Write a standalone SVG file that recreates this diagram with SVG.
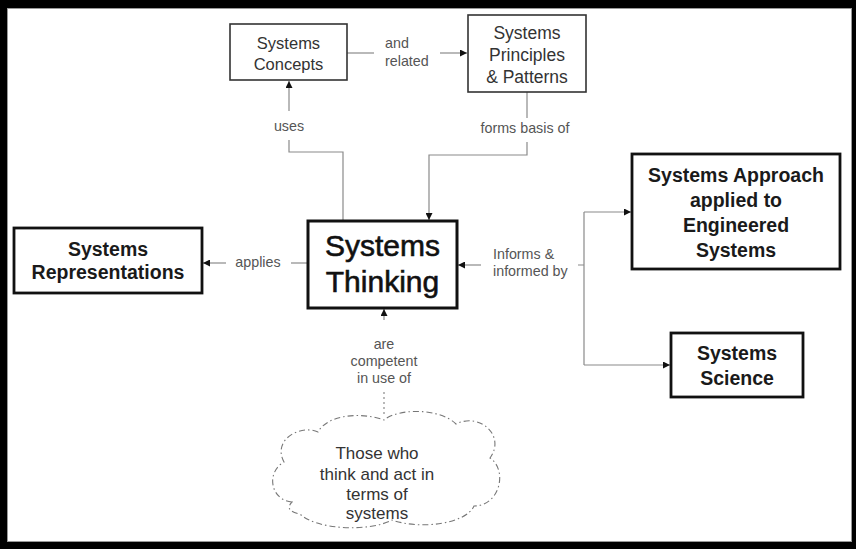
<svg xmlns="http://www.w3.org/2000/svg" width="856" height="549" viewBox="0 0 856 549">
<style>
.conn{fill:none;stroke:#8a8a8a;stroke-width:1.2}
.lbl{font-family:"Liberation Sans",Arial,sans-serif;font-size:14.3px;fill:#555}
.thin{fill:#fff;stroke:#333;stroke-width:1.6}
.thick{fill:#fff;stroke:#111;stroke-width:2.8}
.tn{font-family:"Liberation Sans",Arial,sans-serif;fill:#333;text-anchor:middle}
.tb{font-family:"Liberation Sans",Arial,sans-serif;font-weight:bold;font-size:19.5px;fill:#1a1a1a;text-anchor:middle}
</style>
<defs>
<marker id="ah" viewBox="0 0 10 10" refX="10" refY="5" markerWidth="7" markerHeight="7" markerUnits="userSpaceOnUse" orient="auto">
<path d="M0,0 L10,5 L0,10 z" fill="#111"/>
</marker>
</defs>
<rect x="0" y="0" width="856" height="549" fill="#000"/>
<rect x="7.5" y="8.5" width="844" height="533" fill="#fff" stroke="#999" stroke-width="1"/>

<g id="connectors">
<!-- and related -->
<path class="conn" d="M347,53 H374"/>
<path class="conn" d="M440,53 H467" marker-end="url(#ah)"/>
<text class="lbl" x="385" y="48">and</text>
<text class="lbl" x="385" y="66">related</text>
<!-- uses -->
<path class="conn" d="M289,111 V81" marker-end="url(#ah)"/>
<path class="conn" d="M343,221 V152 H289 V140"/>
<text class="lbl" x="289" y="131" text-anchor="middle">uses</text>
<!-- forms basis of -->
<path class="conn" d="M527,92 V118"/>
<path class="conn" d="M527,142 V155 H429 V220" marker-end="url(#ah)"/>
<text class="lbl" x="525" y="133" text-anchor="middle">forms basis of</text>
<!-- applies -->
<path class="conn" d="M226,263 H203" marker-end="url(#ah)"/>
<path class="conn" d="M308,263 H291"/>
<text class="lbl" x="258" y="267" text-anchor="middle">applies</text>
<!-- informs -->
<path class="conn" d="M481,265 H458" marker-end="url(#ah)"/>
<path class="conn" d="M578,265 H584 M584,212 V365"/>
<path class="conn" d="M584,212 H631" marker-end="url(#ah)"/>
<path class="conn" d="M584,365 H670" marker-end="url(#ah)"/>
<text class="lbl" x="493" y="259">Informs &amp;</text>
<text class="lbl" x="493" y="276">informed by</text>
<!-- are competent -->
<path class="conn" d="M384,320 V309" marker-end="url(#ah)"/>
<path class="conn" d="M384,392 V416" stroke-dasharray="2,3"/>
<text class="lbl" x="384" y="349" text-anchor="middle">are</text>
<text class="lbl" x="384" y="366" text-anchor="middle">competent</text>
<text class="lbl" x="384" y="383" text-anchor="middle">in use of</text>
</g>

<g id="systems-concepts">
<rect class="thin" x="230" y="24" width="117" height="56"/>
<text class="tn" x="288.5" y="49" font-size="16.5">Systems</text>
<text class="tn" x="288.5" y="70" font-size="16.5">Concepts</text>
</g>

<g id="systems-principles">
<rect class="thin" x="468" y="15" width="118" height="77"/>
<text class="tn" x="527" y="39" font-size="17.5">Systems</text>
<text class="tn" x="527" y="61" font-size="17.5">Principles</text>
<text class="tn" x="527" y="83" font-size="17.5">&amp; Patterns</text>
</g>

<g id="systems-thinking">
<rect x="308" y="221" width="149" height="87" fill="#fff" stroke="#111" stroke-width="3"/>
<text x="382.5" y="256" font-family="'Liberation Sans',Arial,sans-serif" font-size="30" fill="#111" stroke="#111" stroke-width="0.6" text-anchor="middle">Systems</text>
<text x="382.5" y="292" font-family="'Liberation Sans',Arial,sans-serif" font-size="30" fill="#111" stroke="#111" stroke-width="0.6" text-anchor="middle">Thinking</text>
</g>

<g id="systems-representations">
<rect class="thick" x="14" y="228" width="188" height="65"/>
<text class="tb" x="108" y="256">Systems</text>
<text class="tb" x="108" y="279">Representations</text>
</g>

<g id="systems-approach">
<rect class="thick" x="632" y="154" width="208" height="115"/>
<text class="tb" x="736" y="182">Systems Approach</text>
<text class="tb" x="736" y="207">applied to</text>
<text class="tb" x="736" y="232">Engineered</text>
<text class="tb" x="736" y="257">Systems</text>
</g>

<g id="systems-science">
<rect class="thick" x="671" y="333" width="132" height="64"/>
<text class="tb" x="737" y="360">Systems</text>
<text class="tb" x="737" y="385">Science</text>
</g>

<g id="practitioners-cloud">
<path d="M292,502 C270,500 266,472 284,462 C272,440 300,424 318,432 C328,414 362,412 384,420 C398,408 440,408 456,424 C480,412 506,436 490,458 C508,470 500,506 474,506 C466,524 420,530 392,520 C370,532 316,530 300,514 C290,512 286,508 292,502 Z" fill="#fff" stroke="#777" stroke-width="1.1" stroke-dasharray="6,3,1.5,3"/>
<text class="tn" x="377" y="459" font-size="17">Those who</text>
<text class="tn" x="377" y="480" font-size="17">think and act in</text>
<text class="tn" x="377" y="500" font-size="17">terms of</text>
<text class="tn" x="377" y="519" font-size="17">systems</text>
</g>
</svg>
